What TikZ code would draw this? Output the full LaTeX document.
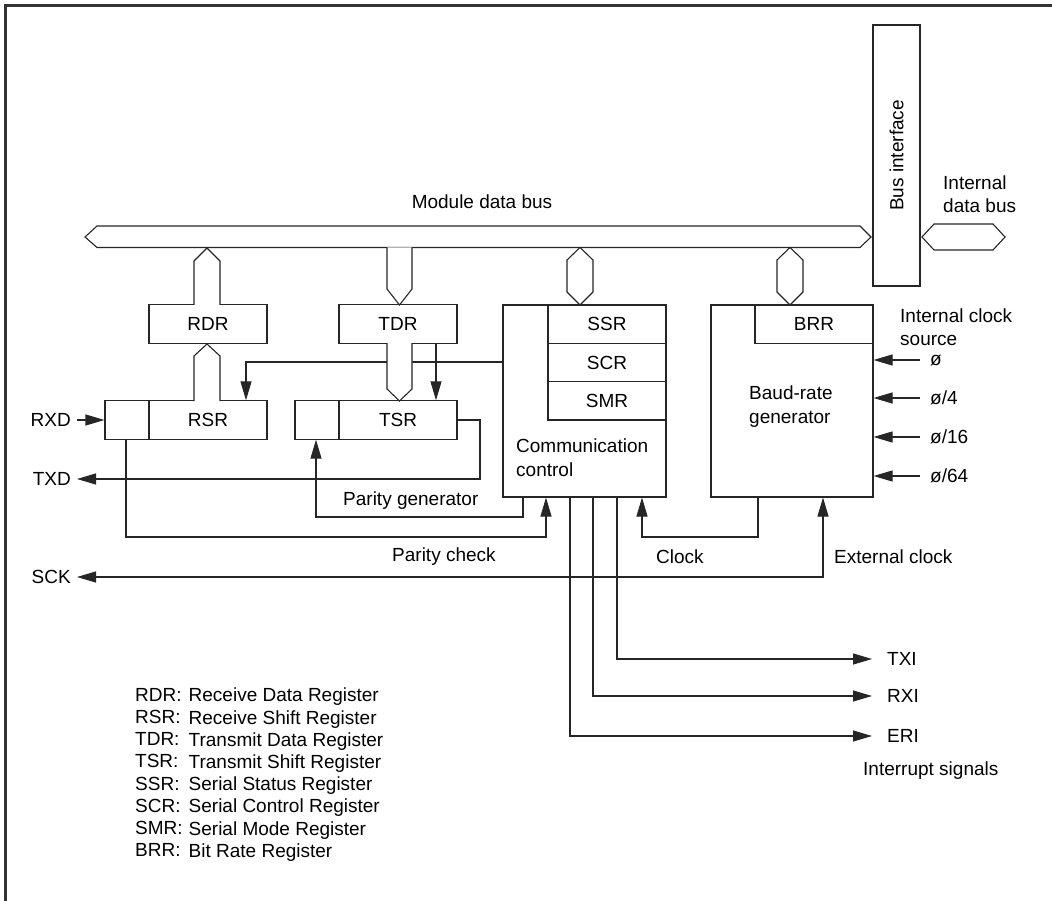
\documentclass[tikz,border=0pt]{standalone}
\usepackage{fontspec}
\setmainfont{Liberation Sans}
\usetikzlibrary{arrows.meta,calc}
\begin{document}
\begin{tikzpicture}[x=1pt,y=-1pt,
  every node/.style={font=\fontsize{19}{23.5}\selectfont},
  ln/.style={line width=1.1pt,draw=black!85},
  box/.style={ln,draw,rectangle,inner sep=0pt,minimum height=38.3pt},
  buspath/.style={ln,fill=white,line join=miter},
  arr/.style={ln,-{Triangle[length=19pt,width=11pt]}},
  arrb/.style={ln,{Triangle[length=19pt,width=11pt]}-{Triangle[length=19pt,width=11pt]}},
  txt/.style={inner sep=0pt},
  sig/.style={inner ysep=0pt,inner xsep=6pt,anchor=east},
]
\useasboundingbox (0,0) rectangle (1052,901);
% frame
\draw[line width=2.2pt,draw=black!80] (1052,5.5) -- (5.5,5.5) -- (5.5,901);

% module data bus
\draw[buspath] (85,237) -- (97,226) -- (860,226) -- (871,237) -- (860,247.5) -- (97,247.5) -- cycle;
\node[txt] (mdb) at (482,202) {Module data bus};

% bus interface
\node[ln,draw,rectangle,minimum width=47pt,minimum height=261pt,inner sep=0pt] (bif) at (896.5,155.5) {};
\node[txt,rotate=90] (biflab) at (bif.center) {Bus interface};
\draw[buspath] (922,237) -- (934,224) -- (993,224) -- (1005,237) -- (993,250) -- (934,250) -- cycle;
\node[txt,anchor=west,align=left] (idb) at (943,194) {Internal\\data bus};

% registers
\node[box,minimum width=118pt] (rdr) at (208,324) {RDR};
\node[box,minimum width=118pt] (tdr) at (398,324) {TDR};
\node[box,minimum width=44pt] (rsrA) at (127,420) {};
\node[box,minimum width=118pt] (rsr) at (208,420) {RSR};
\node[box,minimum width=44pt] (tsrA) at (317,420) {};
\node[box,minimum width=118pt] (tsr) at (398,420) {TSR};

% communication control
\node[ln,draw,rectangle,minimum width=163pt,minimum height=192pt,inner sep=0pt] (cc) at (584.5,401) {};
\node[box,minimum width=118pt] (ssr) at (607,324.2) {SSR};
\node[box,minimum width=118pt] (scr) at (607,362.5) {SCR};
\node[box,minimum width=118pt] (smr) at (607,400.8) {SMR};
\node[txt,anchor=west,align=left] (cclab) at (516,457.5) {Communication\\control};

% baud-rate generator
\node[ln,draw,rectangle,minimum width=162pt,minimum height=192pt,inner sep=0pt] (baud) at (792,401) {};
\node[box,minimum width=118pt] (brr) at (814,324.2) {BRR};
\node[txt,anchor=west,align=left] (baudlab) at (749,406.5) {Baud-rate\\generator};

% vertical bus connections
\draw[buspath] (194,305) -- (194,261) -- (207,248) -- (220,261) -- (220,305);
\draw[buspath] (194,401) -- (194,356) -- (207,344) -- (220,356) -- (220,401);
\draw[buspath] (387,247.5) -- (387,289) -- (399.5,305) -- (412,289) -- (412,247.5);
\draw[buspath] (567,275.5) -- (567,260) -- (580,247.5) -- (593,260) -- (593,292) -- (580,305) -- (567,292) -- cycle;
\draw[buspath] (777,275.5) -- (777,260) -- (790,247.5) -- (803,260) -- (803,292) -- (790,305) -- (777,292) -- cycle;

% control line to RSR and TDR->TSR
\coordinate (c1) at (246,362);
\coordinate (c2) at (436,362);
\draw[arr] (cc.west |- c1) -| (c1 |- rsr.north);
\draw[buspath] (387,343) -- (387,389) -- (399.5,401) -- (412,389) -- (412,343);
\draw[arr] (c2 |- tdr.south) -- (c2 |- tsr.north);

% external signals
\node[sig] (rxd) at (77,420) {RXD};
\node[sig] (txd) at (77,479) {TXD};
\node[sig] (sck) at (77,577) {SCK};
\draw[arr] (rxd.east) -- (rsrA.west);
\coordinate (tx1) at (480,479);
\draw[arr] (tsr.east) -| (tx1) -- (txd.east);

% parity generator
\coordinate (pg1) at (523,517);
\coordinate (pg2) at (316,517);
\draw[arr] (cc.south -| pg1) -- (pg1) -- (pg2) -- (pg2 |- tsrA.south);
\node[txt,anchor=west] (pglab) at (343,501) {Parity generator};

% parity check
\coordinate (pc1) at (126,537);
\coordinate (pc2) at (546,537);
\draw[arr] (rsrA.south -| pc1) -- (pc1) -- (pc2) -- (pc2 |- cc.south);
\node[txt,anchor=west] (pclab) at (392,557) {Parity check};

% clock
\coordinate (ck1) at (758,537);
\coordinate (ck2) at (642,537);
\draw[arr] (baud.south -| ck1) -- (ck1) -- (ck2) -- (ck2 |- cc.south);
\node[txt,anchor=west] (cklab) at (656,557) {Clock};

% external clock / SCK
\coordinate (ex1) at (823,577);
\draw[arrb] (sck.east) -- (ex1) -- (ex1 |- baud.south);
\node[txt,anchor=west] (exlab) at (834,557) {External clock};

% internal clock source
\node[txt,anchor=west,align=left] (icslab) at (900,327) {Internal clock\\source};
\node[sig,anchor=west,inner xsep=10pt] (p1) at (920,360) {ø};
\node[sig,anchor=west,inner xsep=10pt] (p4) at (920,398) {ø/4};
\node[sig,anchor=west,inner xsep=10pt] (p16) at (920,437) {ø/16};
\node[sig,anchor=west,inner xsep=10pt] (p64) at (920,476) {ø/64};
\draw[arr] (p1.west) -- (p1.west -| baud.east);
\draw[arr] (p4.west) -- (p4.west -| baud.east);
\draw[arr] (p16.west) -- (p16.west -| baud.east);
\draw[arr] (p64.west) -- (p64.west -| baud.east);

% interrupts
\node[sig,anchor=west,inner xsep=15pt] (txi) at (872,659) {TXI};
\node[sig,anchor=west,inner xsep=15pt] (rxi) at (872,696) {RXI};
\node[sig,anchor=west,inner xsep=15pt] (eri) at (872,736) {ERI};
\coordinate (i1) at (617,0);
\coordinate (i2) at (593,0);
\coordinate (i3) at (570,0);
\draw[arr] (cc.south -| i1) |- (txi.west);
\draw[arr] (cc.south -| i2) |- (rxi.west);
\draw[arr] (cc.south -| i3) |- (eri.west);
\node[txt,anchor=west] (intlab) at (863,771) {Interrupt signals};

% legend
\node[txt,anchor=north west,align=left,font=\fontsize{19}{22.2}\selectfont] (legA) at (135,688) {RDR:\\RSR:\\TDR:\\TSR:\\SSR:\\SCR:\\SMR:\\BRR:};
\node[txt,anchor=north west,align=left,font=\fontsize{19}{22.2}\selectfont] (legB) at (188.5,688) {Receive Data Register\\Receive Shift Register\\Transmit Data Register\\Transmit Shift Register\\Serial Status Register\\Serial Control Register\\Serial Mode Register\\Bit Rate Register};
\end{tikzpicture}
\end{document}
